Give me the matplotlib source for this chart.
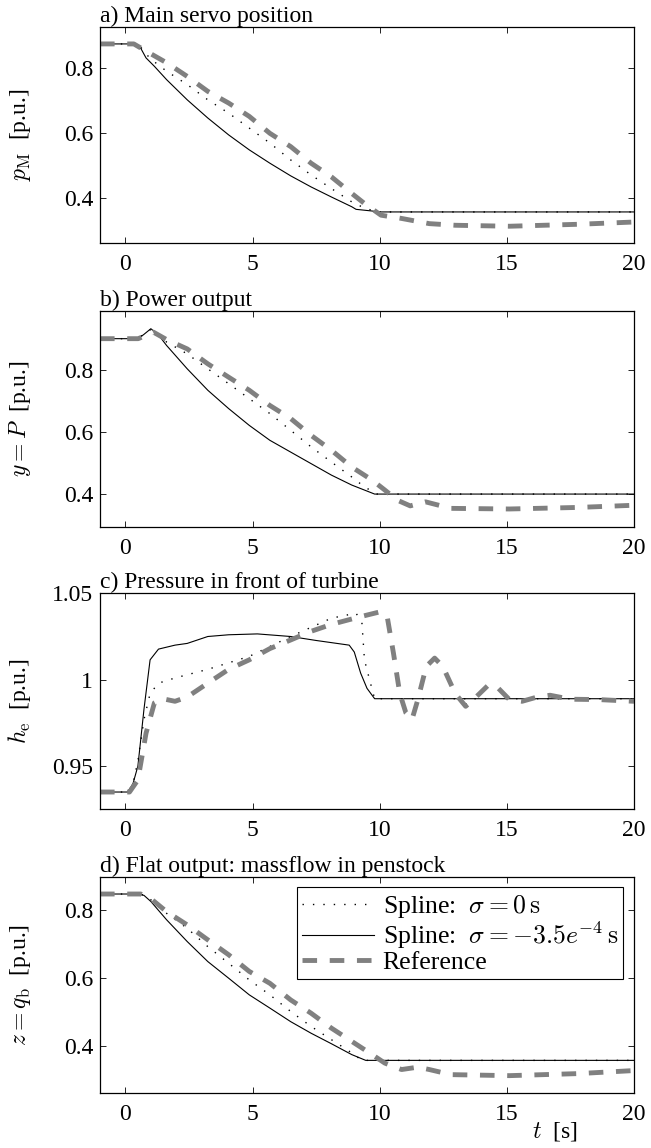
import matplotlib
matplotlib.use("Agg")
import matplotlib.pyplot as plt

plt.rcParams['font.family'] = ['Liberation Serif', 'DejaVu Serif']
plt.rcParams['mathtext.fontset'] = 'cm'

# ---- data ----
# a) main servo position
ta_spl0 = [-1, 0.3, 0.6, 0.97, 1.62, 2.43, 3.24, 4.06, 4.87, 5.68, 6.5, 7.3, 8.1, 8.9, 9.4, 9.9, 20]
pa_spl0 = [0.875, 0.875, 0.865, 0.83, 0.791, 0.75, 0.703, 0.662, 0.616, 0.57, 0.518, 0.472, 0.43, 0.389, 0.37, 0.358, 0.358]
ta_spl1 = [-1, 0.3, 0.6, 0.81, 1.14, 1.62, 2.43, 3.24, 4.06, 4.87, 5.68, 6.5, 7.3, 8.1, 8.9, 9.07, 10.05, 20]
pa_spl1 = [0.875, 0.875, 0.862, 0.832, 0.806, 0.765, 0.703, 0.647, 0.595, 0.549, 0.508, 0.469, 0.435, 0.404, 0.374, 0.366, 0.358, 0.358]
ta_ref = [-1, 0.33, 0.81, 1.62, 2.43, 3.24, 4.06, 4.87, 5.68, 6.5, 7.3, 8.1, 8.9, 9.4, 10.05, 10.86, 11.95, 12.97, 15.1, 17.8, 20]
pa_ref = [0.875, 0.875, 0.853, 0.817, 0.775, 0.729, 0.693, 0.652, 0.6, 0.559, 0.508, 0.466, 0.415, 0.384, 0.348, 0.338, 0.322, 0.317, 0.314, 0.32, 0.327]

# b) power output
tb_spl0 = [-1, 0.45, 0.7, 1.0, 1.3, 1.62, 2.43, 3.24, 4.06, 4.87, 5.68, 6.5, 7.3, 8.1, 8.9, 9.4, 9.9, 20]
pb_spl0 = [0.9, 0.9, 0.912, 0.93, 0.912, 0.889, 0.851, 0.803, 0.755, 0.707, 0.659, 0.605, 0.552, 0.503, 0.455, 0.423, 0.4, 0.4]
tb_spl1 = [-1, 0.45, 0.7, 1.0, 1.3, 1.62, 2.43, 3.24, 4.06, 4.87, 5.68, 6.5, 7.3, 8.1, 8.9, 9.8, 20]
pb_spl1 = [0.9, 0.9, 0.912, 0.932, 0.912, 0.878, 0.803, 0.734, 0.675, 0.621, 0.573, 0.535, 0.498, 0.461, 0.429, 0.4, 0.4]
tb_ref = [-1, 0.5, 0.8, 1.1, 1.62, 2.43, 3.24, 4.06, 4.87, 5.68, 6.5, 7.3, 8.1, 8.9, 9.7, 10.2, 10.7, 11.2, 11.8, 12.8, 15.1, 17.8, 20]
pb_ref = [0.9, 0.9, 0.91, 0.921, 0.897, 0.867, 0.819, 0.776, 0.734, 0.685, 0.643, 0.589, 0.541, 0.487, 0.445, 0.413, 0.38, 0.362, 0.375, 0.354, 0.352, 0.357, 0.364]

# c) pressure in front of turbine
tc_spl0 = [-1, 0.1, 0.3, 0.49, 0.73, 0.97, 1.3, 1.95, 3.24, 4.87, 6.5, 8.1, 9.07, 9.3, 9.4, 9.6, 9.8, 20]
hc_spl0 = [0.935, 0.935, 0.94, 0.953, 0.977, 0.992, 0.998, 1.001, 1.006, 1.0135, 1.025, 1.0356, 1.0385, 1.033, 1.0115, 1.0, 0.989, 0.989]
tc_spl1 = [-1, 0.1, 0.3, 0.49, 0.73, 0.97, 1.3, 1.95, 2.43, 3.24, 4.06, 5.19, 6.5, 7.5, 8.8, 9.0, 9.25, 9.5, 9.8, 20]
hc_spl1 = [0.935, 0.935, 0.94, 0.95, 0.983, 1.0115, 1.0177, 1.02, 1.021, 1.025, 1.026, 1.0265, 1.025, 1.0227, 1.02, 1.016, 1.0038, 0.995, 0.989, 0.989]
tc_ref = [-1, 0.16, 0.49, 0.81, 1.14, 1.46, 1.95, 2.43, 3.24, 4.06, 4.87, 5.68, 6.5, 7.3, 8.1, 9.25, 10.05, 10.3,
          10.54, 10.79, 11.03, 11.27, 11.5, 11.83, 12.16, 12.48, 12.97, 13.38, 13.79, 14.28, 14.6, 15.1, 15.6,
          16.2, 16.7, 17.5, 18.6, 20]
hc_ref = [0.935, 0.935, 0.942, 0.969, 0.9866, 0.989, 0.9875, 0.99, 0.998, 1.006, 1.0115, 1.018, 1.023, 1.028, 1.032,
          1.0365, 1.0394, 1.036, 1.0154, 0.992, 0.9808, 0.977, 0.9885, 1.0077, 1.0125, 1.0077, 0.992, 0.9846, 0.99,
          0.997, 0.996, 0.9885, 0.9875, 0.99, 0.991, 0.9887, 0.9885, 0.9875]

# d) flat output: massflow in penstock
td_spl0 = [-1, 0.5, 0.8, 1.0, 1.62, 2.43, 3.24, 4.06, 4.87, 5.68, 6.5, 7.3, 8.1, 8.9, 9.3, 20]
qd_spl0 = [0.847, 0.847, 0.843, 0.83, 0.79, 0.746, 0.692, 0.643, 0.594, 0.55, 0.501, 0.457, 0.418, 0.379, 0.357, 0.357]
td_spl1 = [-1, 0.5, 0.73, 1.0, 1.62, 2.43, 3.24, 4.06, 4.87, 5.68, 6.5, 7.3, 8.1, 8.9, 9.45, 20]
qd_spl1 = [0.847, 0.847, 0.843, 0.825, 0.771, 0.707, 0.648, 0.599, 0.55, 0.511, 0.471, 0.437, 0.406, 0.374, 0.357, 0.357]
td_ref = [-1, 0.6, 0.97, 1.62, 2.43, 3.24, 4.06, 4.87, 5.68, 6.5, 7.3, 8.1, 8.9, 9.7, 10.2, 10.86, 11.5, 11.95, 12.8, 15.1, 17.8, 20]
qd_ref = [0.847, 0.847, 0.835, 0.795, 0.756, 0.712, 0.668, 0.619, 0.584, 0.535, 0.496, 0.452, 0.413, 0.374, 0.349, 0.33, 0.337, 0.33, 0.315, 0.312, 0.318, 0.327]

titles = ["a) Main servo position", "b) Power output", "c) Pressure in front of turbine",
          "d) Flat output: massflow in penstock"]
ylabels = [r"$p_\mathrm{M}$  [p.u.]", r"$y = P$  [p.u.]", r"$h_\mathrm{e}$  [p.u.]", r"$z = q_\mathrm{b}$  [p.u.]"]
ylims = [(0.2615, 0.928), (0.295, 0.99), (0.925, 1.05), (0.26, 0.898)]
yticks = [[0.4, 0.6, 0.8], [0.4, 0.6, 0.8], [0.95, 1.0, 1.05], [0.4, 0.6, 0.8]]
yticklabels = [["0.4", "0.6", "0.8"], ["0.4", "0.6", "0.8"], ["0.95", "1", "1.05"], ["0.4", "0.6", "0.8"]]
xticks = [0, 5, 10, 15, 20]

series = [
    (ta_spl0, pa_spl0, ta_spl1, pa_spl1, ta_ref, pa_ref),
    (tb_spl0, pb_spl0, tb_spl1, pb_spl1, tb_ref, pb_ref),
    (tc_spl0, hc_spl0, tc_spl1, hc_spl1, tc_ref, hc_ref),
    (td_spl0, qd_spl0, td_spl1, qd_spl1, td_ref, qd_ref),
]

fig = plt.figure(figsize=(6.51, 11.48), dpi=100)
# axes boxes in pixels (top, bottom) of the 1148 px tall figure
boxes = [(26.7, 243.3), (310.7, 526.7), (593.3, 809.3), (876.7, 1093.3)]
L, W = 100 / 651, 534 / 651

for i in range(4):
    top, bot = boxes[i]
    ax = fig.add_axes([L, 1 - bot / 1148, W, (bot - top) / 1148])
    t0, v0, t1, v1, tr, vr = series[i]
    ax.plot(t0, v0, color='black', lw=1.0, linestyle=(0, (1, 6.5)), label=r"Spline:  $\sigma = 0\,\mathrm{s}$")
    ax.plot(t1, v1, color='black', lw=0.8, label=r"Spline:  $\sigma = -3.5e^{-4}\,\mathrm{s}$")
    ax.plot(tr, vr, color='#808080', lw=3.5, dashes=(3, 2.6), label="Reference")
    ax.set_xlim(-1, 20)
    ax.set_ylim(*ylims[i])
    ax.set_xticks(xticks)
    ax.set_xticklabels([str(x) for x in xticks])
    ax.set_yticks(yticks[i])
    ax.set_yticklabels(yticklabels[i])
    ax.tick_params(direction='in', top=True, right=True, length=4.5, width=0.6, labelsize=17)
    ax.tick_params(axis='x', pad=8)
    ax.tick_params(axis='y', pad=5)
    for s in ax.spines.values():
        s.set_linewidth(0.9)
    ax.set_title(titles[i], loc='left', fontsize=17, pad=3.5)
    ax.set_ylabel(ylabels[i], fontsize=17)
    ax.yaxis.set_label_coords(-0.125, 0.5)
    if i == 3:
        ax.set_xlabel(r"$t$  [s]", fontsize=17)
        ax.xaxis.set_label_coords(0.852, -0.125)
        leg = ax.legend(loc='upper right', fontsize=18.5, frameon=True, fancybox=False, handlelength=2.8,
                        borderaxespad=0.42, borderpad=0.2, labelspacing=0.0, handletextpad=0.35)
        leg.get_frame().set_edgecolor('black')
        leg.get_frame().set_linewidth(0.8)
        leg.get_frame().set_alpha(1)

fig.savefig("out.png", dpi=100)
